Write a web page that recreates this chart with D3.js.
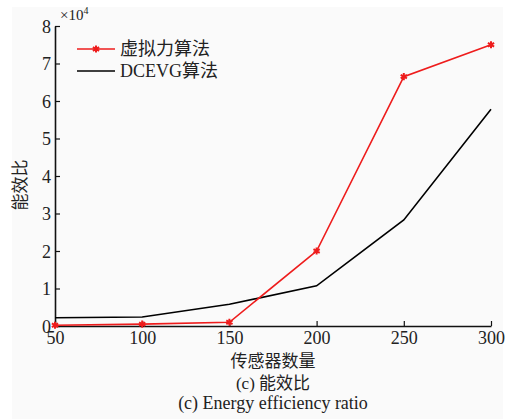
<!DOCTYPE html>
<html>
<head>
<meta charset="utf-8">
<script src="https://cdn.jsdelivr.net/npm/d3@7"></script>
<style>
    body { margin: 0; background: #fff; }
    svg text { font-family: "Liberation Serif", "Noto Sans CJK SC", serif; fill: #222; }
</style>
</head>
<body>
<svg width="518" height="419"></svg>
<script>
'use strict';

// data (y in units of 10^4)
let sensors = [50, 100, 150, 200, 250, 300];
let vforce = [0.02, 0.05, 0.1, 2.0, 6.65, 7.5];
let dcevg = [0.22, 0.24, 0.58, 1.07, 2.83, 5.78];
let yTicks = [0, 1, 2, 3, 4, 5, 6, 7, 8];
let seriesNames = ["虚拟力算法", "DCEVG算法"];

let svg = d3.select("svg");
let margin = {left: 55, top: 26, right: 491, bottom: 326};

svg.append("rect").attr("x", 12).attr("y", 7).attr("width", 491).attr("height", 412)
    .attr("fill", "#fafafa");

let x = d3.scaleLinear().domain([50, 300]).range([margin.left, margin.right]);
let y = d3.scaleLinear().domain([0, 8]).range([margin.bottom, margin.top]);

let xAxis = svg.append("g")
    .attr("transform", "translate(0," + margin.bottom + ")")
    .call(d3.axisBottom(x).tickValues(sensors).tickSizeInner(-5).tickSizeOuter(0).tickPadding(5));
let yAxis = svg.append("g")
    .attr("transform", "translate(" + margin.left + ",0)")
    .call(d3.axisLeft(y).tickValues(yTicks).tickSizeInner(-5).tickSizeOuter(0).tickPadding(4));

[xAxis, yAxis].forEach(function (a) {
    a.select(".domain").attr("stroke", "#111").attr("stroke-width", 1.6);
    a.selectAll(".tick line").attr("stroke", "#111").attr("stroke-width", 1.2);
    a.selectAll(".tick text").style("font-size", "18px").attr("fill", "#222");
});
yAxis.selectAll(".tick text").attr("dy", "0.35em");

let line = d3.line()
    .x(function (d, i) { return x(sensors[i]); })
    .y(function (d) { return y(d); });

svg.append("path").datum(dcevg)
    .attr("d", line).attr("fill", "none").attr("stroke", "#000").attr("stroke-width", 1.6);
svg.append("path").datum(vforce)
    .attr("d", line).attr("fill", "none").attr("stroke", "#ee1c1c").attr("stroke-width", 1.6);

let star = d3.symbol().type(d3.symbolAsterisk).size(36);
svg.selectAll(".mk").data(vforce).enter().append("path")
    .attr("class", "mk")
    .attr("d", star)
    .attr("transform", function (d, i) { return "translate(" + x(sensors[i]) + "," + y(d) + ")"; })
    .attr("fill", "none").attr("stroke", "#ee1c1c").attr("stroke-width", 2);

// legend
let legend = [{c: "#ee1c1c", m: true, ly: 49}, {c: "#000", m: false, ly: 71}];
legend.forEach(function (d, i) {
    svg.append("line").attr("x1", 77).attr("x2", 115).attr("y1", d.ly).attr("y2", d.ly)
        .attr("stroke", d.c).attr("stroke-width", 1.6);
    if (d.m) {
        svg.append("path").attr("d", star).attr("transform", "translate(96," + d.ly + ")")
            .attr("fill", "none").attr("stroke", d.c).attr("stroke-width", 2);
    }
    svg.append("text").attr("x", 120).attr("y", d.ly).attr("dy", "0.36em")
        .style("font-size", "18px").text(seriesNames[i]);
});

// exponent
let ex = svg.append("text").attr("x", 60).attr("y", 20).style("font-size", "15px");
ex.append("tspan").text("×10");
ex.append("tspan").attr("dy", -6).style("font-size", "10px").text("4");

svg.append("text").attr("transform", "translate(26,185) rotate(-90)")
    .attr("text-anchor", "middle").style("font-size", "17px").text("能效比");
svg.append("text").attr("x", 273).attr("y", 367).attr("text-anchor", "middle")
    .style("font-size", "17px").text("传感器数量");
svg.append("text").attr("x", 273).attr("y", 389).attr("text-anchor", "middle")
    .style("font-size", "17px").text("(c) 能效比");
svg.append("text").attr("x", 273).attr("y", 409).attr("text-anchor", "middle")
    .style("font-size", "18px").text("(c) Energy efficiency ratio");
</script>
</body>
</html>
